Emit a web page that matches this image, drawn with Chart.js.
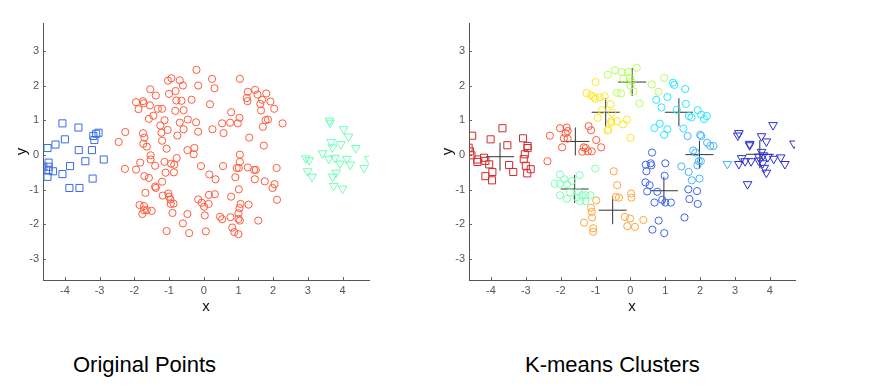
<!DOCTYPE html>
<html>
<head>
<meta charset="utf-8">
<script src="https://cdn.jsdelivr.net/npm/chart.js@4"></script>
<style>
    body { margin: 0; background: #fff; width: 876px; height: 387px; position: relative; overflow: hidden; font-family: 'Liberation Sans', Arial, sans-serif; }
    .plot { position: absolute; top: 0; width: 400px; height: 330px; }
    #leftWrap { left: 0; }
    #rightWrap { left: 426px; }
    .caption { position: absolute; top: 352px; font-size: 22px; line-height: 26px; color: #000; white-space: nowrap; }
</style>
</head>
<body>
<div class="plot" id="leftWrap"><canvas id="leftChart" width="400" height="330"></canvas></div>
<div class="plot" id="rightWrap"><canvas id="rightChart" width="400" height="330"></canvas></div>
<div class="caption" style="left:73px">Original Points</div>
<div class="caption" style="left:525px">K-means Clusters</div>
<script>
// Tick values
const xTicks = [-4, -3, -2, -1, 0, 1, 2, 3, 4];
const yTicks = [-3, -2, -1, 0, 1, 2, 3];

// ---- Original points ----
const origSquares = [[-4.07,0.91],[-3.61,0.79],[-4.0,0.45],[-4.27,0.30],[-4.50,0.20],[-3.18,0.55],[-3.10,0.61],[-3.03,0.64],[-3.15,0.43],[-3.60,0.14],[-3.22,0.14],[-3.41,-0.18],[-2.88,-0.13],[-4.62,-0.34],[-4.47,-0.22],[-4.47,-0.34],[-4.47,-0.45],[-4.34,-0.47],[-4.50,-0.63],[-4.07,-0.55],[-3.85,-0.32],[-3.87,-0.95],[-3.58,-0.95],[-3.20,-0.68]];

const origCircles = [[-2.26,0.66],[-2.45,0.375],[-2.27,-0.40],[-1.95,1.52],[-1.88,1.32],[-1.75,1.55],[-1.73,1.49],[-1.54,1.89],[-1.38,1.71],[-1.55,1.43],[-1.45,1.13],[-1.58,1.04],[-1.32,1.33],[-1.20,1.33],[-1.25,0.85],[-1.13,1.0],[-1.04,0.72],[-1.22,0.64],[-1.20,0.41],[-1.75,0.625],[-1.71,0.50],[-1.74,0.32],[-1.64,0.24],[-1.83,-0.22],[-1.95,-0.42],[-1.53,-0.01],[-1.53,-0.13],[-1.40,-0.31],[-1.71,-0.61],[-1.58,-0.66],[-1.40,-0.91],[-1.38,-0.95],[-1.68,-1.09],[-1.20,-0.77],[-1.07,0.18],[-1.13,-0.20],[-1.10,-0.51],[-0.94,-0.25],[-0.85,-0.28],[-0.78,-0.09],[-0.86,-0.50],[-1.02,-1.11],[-1.00,-1.20],[-1.18,-1.17],[-0.96,-1.28],[-0.95,-1.41],[-0.87,-1.40],[-0.90,-1.67],[-1.85,-1.44],[-1.72,-1.47],[-1.72,-1.59],[-1.64,-1.59],[-1.77,-1.70],[-1.50,-1.61],[-1.07,-2.19],[-0.60,-1.97],[-0.47,-1.70],[-0.42,-2.25],[-1.03,2.14],[-0.93,2.21],[-0.69,2.15],[-0.81,1.84],[-0.60,2.0],[-1.0,1.76],[-0.79,1.57],[-0.64,1.56],[-0.82,1.27],[-0.58,1.29],[-0.69,0.93],[-0.58,0.74],[-0.76,0.56],[-0.46,1.02],[-0.35,1.59],[-0.21,2.45],[-0.16,2.0],[-0.22,0.94],[-0.16,0.67],[-0.47,0.14],[-0.27,0.20],[-0.29,0.02],[-0.08,-0.32],[-0.16,-1.28],
    [0.24,2.19],[0.31,1.92],[0.18,1.46],[0.53,0.91],[0.76,0.93],[0.98,0.91],[1.03,1.07],[0.25,0.74],[0.57,0.63],[0.79,1.23],[1.04,2.19],[1.31,0.50],[1.48,1.875],[1.27,1.82],[1.24,1.64],[1.26,1.55],[1.55,1.74],[1.63,1.47],[1.68,1.59],[1.80,1.77],[1.92,1.54],[2.03,1.33],[1.65,1.28],[1.78,1.0],[1.85,1.02],[1.70,0.81],[2.27,0.91],[1.73,0.27],[0.16,-0.56],[0.34,-0.70],[0.555,-0.32],[0.91,-0.64],[0.95,-0.375],[1.01,-0.375],[1.04,-0.20],[1.04,0.01],[1.27,-0.36],[1.45,-0.43],[1.50,-0.43],[1.47,-0.70],[1.76,-0.76],[2.10,-0.375],[2.04,-0.84],[1.98,-0.95],[2.11,-1.29],[1.01,-0.99],[0.79,-1.20],[0.32,-1.13],[0.15,-1.15],[-0.06,-1.375],[0.01,-1.49],[0.14,-1.41],[1.06,-1.41],[1.03,-1.53],[1.0,-1.68],[1.0,-1.84],[1.04,-1.89],[1.29,-1.43],[1.57,-1.89],[0.03,-1.74],[0.47,-1.78],[0.53,-1.85],[0.77,-1.79],[0.82,-2.09],[0.88,-2.22],[1.0,-2.28],[0.06,-2.20]];

const origTriangles = [[3.62,0.99],[3.64,0.93],[4.03,0.74],[4.17,0.53],[3.67,0.37],[3.95,0.31],[3.71,0.22],[4.38,0.20],[3.42,0.05],[2.94,-0.10],[3.04,-0.15],[3.60,-0.11],[3.78,-0.08],[4.12,-0.11],[4.75,-0.11],[3.92,-0.25],[4.22,-0.28],[4.62,-0.37],[2.99,-0.47],[3.12,-0.625],[3.81,-0.51],[3.71,-0.625],[3.74,-0.89],[4.0,-0.97]];

// ---- K-means clusters ----
const clusterSquares = [[-4.54,0.555],[-4.64,0.21],[-4.60,0.105],[-4.56,-0.01],[-4.39,-0.13],[-4.39,-0.20],[-4.20,-0.08],[-4.16,-0.17],[-4.05,-0.27],[-4.16,-0.61],[-3.97,-0.73],[-3.96,-0.49],[-4.01,0.45],[-3.67,0.77],[-3.53,0.28],[-3.48,-0.29],[-3.36,-0.49],[-3.08,0.48],[-2.95,0.26],[-2.95,0.20],[-3.03,0.02],[-3.06,-0.12],[-3.0,-0.31],[-2.96,-0.53],[-2.86,-0.41]];
const clusterRed = [[-2.31,0.555],[-2.38,-0.18],[-2.02,0.77],[-1.83,0.79],[-1.80,0.69],[-1.86,0.63],[-1.91,0.48],[-1.96,0.22],[-1.80,0.47],[-1.20,0.83],[-1.13,0.71],[-0.98,0.43],[-0.84,0.22],[-1.34,0.22],[-1.28,0.20],[-1.22,0.105],[-1.38,0.095],[-1.11,0.105]];
const clusterMint = [[-2.02,-0.56],[-2.17,-0.83],[-2.02,-0.83],[-1.89,-0.70],[-1.68,-0.75],[-1.82,-0.84],[-2.02,-1.16],[-1.82,-1.26],[-1.73,-1.08],[-1.46,-0.58],[-1.54,-1.22],[-1.51,-1.06],[-1.39,-1.16],[-1.29,-1.16],[-1.15,-1.16],[-1.44,-1.33],[-1.29,-1.33],[-1.01,-0.39]];
const clusterOrange = [[-0.98,-1.31],[-1.13,-1.52],[-1.11,-1.64],[-1.10,-1.80],[-1.33,-1.95],[-1.07,-2.11],[-1.07,-2.21],[-0.48,-0.47],[-0.38,-0.87],[-0.42,-1.21],[-0.33,-1.23],[-0.16,-1.78],[-0.09,-2.05],[0.02,-1.11],[0.03,-1.23],[-0.01,-1.83],[0.13,-2.07],[0.37,-1.87]];
const clusterYellow = [[-1.0,2.10],[-1.26,1.78],[-1.13,1.72],[-1.06,1.67],[-1.01,1.62],[-0.88,1.66],[-0.74,1.69],[-0.94,1.07],[-0.82,1.29],[-0.57,1.46],[-0.53,1.22],[-0.55,0.98],[-0.66,0.71],[-0.63,0.72],[-0.39,0.97],[-0.21,0.88],[-0.10,1.02],[0.0,0.49],[-0.55,0.93]];
const clusterLime = [[-0.65,2.31],[-0.44,2.44],[-0.25,2.39],[-0.06,2.39],[0.18,2.51],[-0.20,2.20],[-0.01,2.22],[0.04,2.12],[0.09,1.83],[-0.39,1.79],[-0.27,1.77],[0.26,1.48],[0.61,2.03],[0.80,1.82],[0.97,2.22],[0.0,2.0]];
const clusterCyan = [[1.22,2.08],[1.26,2.02],[1.57,1.90],[1.06,1.67],[0.74,1.59],[0.89,1.37],[1.59,1.47],[1.33,1.30],[1.68,1.12],[1.75,1.08],[1.93,1.29],[2.03,1.16],[2.19,1.12],[2.11,1.03],[0.84,0.90],[0.69,0.775],[1.06,0.74],[0.97,0.58],[1.52,0.76]];
const clusterSky = [[1.64,0.545],[2.0,0.58],[2.03,0.545],[2.20,0.35],[2.29,0.26],[2.38,0.26],[1.80,0.13],[1.87,0.07],[1.96,-0.18],[2.02,-0.18],[1.92,-0.30],[1.46,-0.33],[1.67,-0.49],[1.98,-0.68],[1.76,-0.73]];
const clusterSkyTriangles = [[2.78,-0.26]];
const clusterBlue = [[0.62,0.07],[0.44,-0.28],[0.58,-0.24],[0.60,-0.30],[0.46,-0.47],[1.0,-0.24],[0.98,-0.60],[0.43,-0.79],[0.55,-0.87],[0.48,-1.05],[0.77,-1.06],[0.69,-1.37],[0.91,-1.29],[1.0,-1.37],[1.16,-1.37],[0.81,-1.89],[0.63,-2.15],[0.97,-2.25],[1.55,-1.80],[1.66,-0.99],[1.91,-1.04],[1.69,-1.27],[1.93,-1.41]];
const clusterNavy = [[4.09,0.86],[3.11,0.63],[3.08,0.56],[3.76,0.54],[3.90,0.39],[3.42,0.28],[3.42,0.32],[4.69,0.33],[3.76,0.09],[3.19,-0.09],[3.11,-0.26],[3.29,-0.18],[3.46,-0.18],[3.68,-0.05],[3.81,-0.01],[3.94,-0.06],[4.11,-0.11],[4.31,-0.07],[4.43,-0.26],[3.79,-0.24],[3.84,-0.37],[3.90,-0.51],[3.36,-0.84],[3.68,-0.16]];
const centroids = [[-3.74,-0.05],[-1.58,0.39],[-1.60,-0.98],[-0.51,-1.59],[-0.71,1.23],[0.05,2.10],[1.39,1.23],[1.98,0.01],[0.96,-1.03],[3.71,0.02]];

/**
 * Scatter dataset of hollow markers
 */
function markers(points, color, style) {
    const ds = {
        data: points.map(p => ({ x: p[0], y: p[1] })),
        pointStyle: style,
        pointRadius: 3.6,
        pointBorderColor: color,
        pointBackgroundColor: 'rgba(0,0,0,0)',
        pointBorderWidth: 1
    };
    if (style === 'rect') ds.pointRadius = 5;
    if (style === 'triangle') {
        ds.pointRadius = 5;
        ds.pointRotation = 180;
    }
    return ds;
}

// Draw small tick marks pointing into the plot area
const inwardTicks = {
    id: 'inwardTicks',
    afterDraw(chart) {
        const ctx = chart.ctx;
        const xs = chart.scales.x, ys = chart.scales.y;
        const area = chart.chartArea;
        ctx.save();
        ctx.strokeStyle = '#666';
        ctx.lineWidth = 1;
        ctx.beginPath();
        xTicks.forEach(v => {
            const px = Math.round(xs.getPixelForValue(v)) + 0.5;
            ctx.moveTo(px, area.bottom);
            ctx.lineTo(px, area.bottom - 3);
        });
        yTicks.forEach(v => {
            const py = Math.round(ys.getPixelForValue(v)) + 0.5;
            ctx.moveTo(area.left, py);
            ctx.lineTo(area.left + 3, py);
        });
        ctx.stroke();
        ctx.restore();
    }
};

/**
 * Create one scatter panel
 */
function createPanel(id, datasets, xMin, xMax) {
    const ctx = document.getElementById(id).getContext('2d');
    const tickFont = { family: "'Liberation Sans', Arial, sans-serif", size: 11 };

    return new Chart(ctx, {
        type: 'scatter',
        data: { datasets: datasets },
        plugins: [inwardTicks],
        options: {
            responsive: false,
            animation: false,
            layout: { padding: { top: 23, right: 31, left: 0, bottom: 0 } },
            plugins: {
                legend: { display: false },
                tooltip: { enabled: false }
            },
            scales: {
                x: {
                    type: 'linear',
                    min: xMin,
                    max: xMax,
                    grid: { display: false, drawTicks: false },
                    border: { display: true, color: '#555', width: 1 },
                    ticks: {
                        stepSize: 1,
                        includeBounds: false,
                        padding: 4,
                        color: '#555',
                        font: tickFont
                    },
                    title: {
                        display: true,
                        text: 'x',
                        color: '#111',
                        font: { family: "'Liberation Sans', Arial, sans-serif", size: 15 },
                        padding: { top: 0, bottom: 14 }
                    },
                    afterFit: function(scale) { scale.height = 50; }
                },
                y: {
                    type: 'linear',
                    min: -3.6,
                    max: 3.8,
                    grid: { display: false, drawTicks: false },
                    border: { display: true, color: '#555', width: 1 },
                    ticks: {
                        stepSize: 1,
                        includeBounds: false,
                        padding: 4,
                        color: '#555',
                        font: tickFont
                    },
                    title: {
                        display: true,
                        text: 'y',
                        color: '#111',
                        font: { family: "'Liberation Sans', Arial, sans-serif", size: 15 },
                        padding: { top: 13, bottom: 0 }
                    },
                    afterFit: function(scale) { scale.width = 43; }
                }
            }
        }
    });
}

createPanel('leftChart', [
    markers(origSquares, '#3a6be6', 'rect'),
    markers(origCircles, '#ff5a3c', 'circle'),
    markers(origTriangles, '#6dffb6', 'triangle')
], -4.63, 4.76);

const crossSet = {
    data: centroids.map(p => ({ x: p[0], y: p[1] })),
    pointStyle: 'cross',
    pointRadius: 14,
    pointBorderColor: '#333',
    pointBorderWidth: 1
};

createPanel('rightChart', [
    markers(clusterSquares, '#d42a2a', 'rect'),
    markers(clusterRed, '#ff5a3c', 'circle'),
    markers(clusterMint, '#7dffb4', 'circle'),
    markers(clusterOrange, '#ffa53c', 'circle'),
    markers(clusterYellow, '#ffe61e', 'circle'),
    markers(clusterLime, '#b4ff5a', 'circle'),
    markers(clusterCyan, '#28e6ff', 'circle'),
    markers(clusterSky, '#46b4ff', 'circle'),
    markers(clusterSkyTriangles, '#46b4ff', 'triangle'),
    markers(clusterBlue, '#3c64f0', 'circle'),
    markers(clusterNavy, '#2d2dd2', 'triangle'),
    crossSet
], -4.63, 4.72);
</script>
</body>
</html>
